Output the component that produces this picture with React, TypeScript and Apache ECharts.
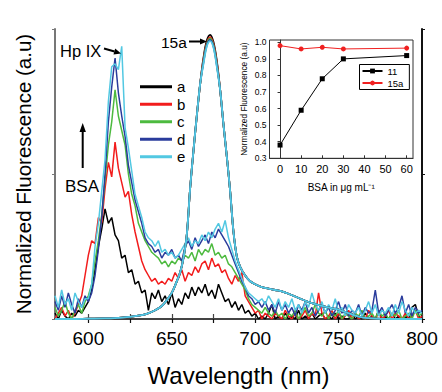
import React, { useEffect, useRef } from "react";
import * as echarts from "echarts";

const FONT = "Liberation Sans, Arial, Helvetica, sans-serif";

// wavelength grid of the noisy Hp IX traces (nm), 2 nm steps
const wavelengths = [
  580, 582, 584, 586, 588, 590, 592, 594, 596, 598,
  600, 602, 604, 606, 608, 610, 612, 614, 616, 618,
  620, 622, 624, 626, 628, 630, 632, 634, 636, 638,
  640, 642, 644, 646, 648, 650, 652, 654, 656, 658,
  660, 662, 664, 666, 668, 670, 672, 674, 676, 678,
  680, 682, 684, 686, 688, 690, 692, 694, 696, 698,
  700, 702, 704, 706, 708, 710, 712, 714, 716, 718,
  720, 722, 724, 726, 728, 730, 732, 734, 736, 738,
  740, 742, 744, 746, 748, 750, 752, 754, 756, 758,
  760, 762, 764, 766, 768, 770, 772, 774, 776, 778,
  780, 782, 784, 786, 788, 790, 792, 794, 796, 798,
  800,
];

const traceA = [
  0.02, 0.00, 0.03, 0.01, 0.00, 0.02, 0.01, 0.03, 0.02, 0.04,
  0.06, 0.10, 0.17, 0.25, 0.31, 0.38, 0.33, 0.35, 0.29, 0.27,
  0.21, 0.22, 0.16, 0.17, 0.12, 0.13, 0.09, 0.10, 0.03, 0.09,
  0.07, 0.10, 0.06, 0.08, 0.05, 0.09, 0.04, 0.07, 0.05, 0.09,
  0.07, 0.11, 0.08, 0.11, 0.09, 0.12, 0.08, 0.10, 0.07, 0.12,
  0.09, 0.06, 0.07, 0.04, 0.06, 0.03, 0.05, 0.02, 0.03, 0.01,
  0.02, 0.00, 0.01, 0.00, 0.02, 0.05, 0.00, 0.01, 0.00, 0.02,
  0.00, 0.01, 0.00, 0.03, 0.00, 0.01, 0.00, 0.02, 0.00, 0.01,
  0.02, 0.00, 0.01, 0.00, 0.02, 0.00, 0.01, 0.00, 0.00, 0.02,
  0.00, 0.01, 0.00, 0.02, 0.00, 0.01, 0.00, 0.03, 0.00, 0.01,
  0.00, 0.02, 0.00, 0.01, 0.00, 0.01, 0.00, 0.04, 0.05, 0.01,
  0.00,
];
const traceB = [
  0.00, 0.02, 0.04, 0.01, 0.03, 0.00, 0.02, 0.05, 0.08, 0.15,
  0.22, 0.27, 0.26, 0.35, 0.33, 0.45, 0.54, 0.49, 0.61, 0.52,
  0.47, 0.42, 0.44, 0.36, 0.30, 0.25, 0.20, 0.17, 0.15, 0.13,
  0.14, 0.12, 0.13, 0.12, 0.14, 0.13, 0.16, 0.14, 0.17, 0.13,
  0.16, 0.15, 0.18, 0.16, 0.19, 0.20, 0.17, 0.21, 0.18, 0.19,
  0.16, 0.17, 0.14, 0.12, 0.15, 0.13, 0.16, 0.08, 0.06, 0.04,
  0.02, 0.03, 0.00, 0.02, 0.01, 0.00, 0.02, 0.01, 0.00, 0.03,
  0.01, 0.00, 0.02, 0.00, 0.01, 0.03, 0.00, 0.02, 0.01, 0.09,
  0.02, 0.00, 0.01, 0.03, 0.00, 0.02, 0.00, 0.01, 0.03, 0.00,
  0.02, 0.00, 0.01, 0.00, 0.03, 0.01, 0.00, 0.02, 0.00, 0.01,
  0.03, 0.00, 0.02, 0.01, 0.00, 0.02, 0.00, 0.01, 0.03, 0.00,
  0.01,
];
const traceC = [
  0.04, 0.01, 0.03, 0.06, 0.02, 0.00, 0.03, 0.05, 0.02, 0.06,
  0.08, 0.12, 0.20, 0.27, 0.36, 0.48, 0.60, 0.68, 0.79, 0.70,
  0.65, 0.60, 0.50, 0.43, 0.39, 0.33, 0.30, 0.27, 0.25, 0.23,
  0.22, 0.21, 0.19, 0.20, 0.18, 0.20, 0.19, 0.21, 0.20, 0.22,
  0.21, 0.23, 0.20, 0.24, 0.22, 0.24, 0.23, 0.26, 0.22, 0.23,
  0.21, 0.22, 0.19, 0.18, 0.16, 0.14, 0.12, 0.10, 0.07, 0.05,
  0.04, 0.03, 0.02, 0.04, 0.02, 0.01, 0.03, 0.01, 0.02, 0.00,
  0.02, 0.01, 0.03, 0.00, 0.02, 0.04, 0.01, 0.02, 0.05, 0.02,
  0.01, 0.03, 0.00, 0.02, 0.01, 0.03, 0.00, 0.02, 0.01, 0.00,
  0.02, 0.01, 0.03, 0.00, 0.01, 0.02, 0.00, 0.03, 0.01, 0.02,
  0.00, 0.02, 0.01, 0.03, 0.00, 0.01, 0.02, 0.00, 0.03, 0.01,
  0.02,
];
const traceD = [
  0.06, 0.03, 0.08, 0.04, 0.09, 0.05, 0.02, 0.07, 0.04, 0.08,
  0.06, 0.09, 0.15, 0.24, 0.35, 0.50, 0.68, 0.80, 0.90, 0.78,
  0.70, 0.63, 0.53, 0.47, 0.41, 0.37, 0.33, 0.28, 0.26, 0.25,
  0.23, 0.24, 0.21, 0.23, 0.22, 0.24, 0.21, 0.22, 0.20, 0.25,
  0.27, 0.24, 0.28, 0.25, 0.27, 0.29, 0.26, 0.30, 0.28, 0.31,
  0.29, 0.27, 0.25, 0.22, 0.19, 0.16, 0.13, 0.11, 0.08, 0.07,
  0.05, 0.06, 0.04, 0.06, 0.03, 0.05, 0.02, 0.06, 0.03, 0.05,
  0.02, 0.04, 0.01, 0.05, 0.03, 0.06, 0.02, 0.04, 0.01, 0.03,
  0.05, 0.02, 0.04, 0.01, 0.03, 0.06, 0.02, 0.05, 0.01, 0.03,
  0.02, 0.05, 0.01, 0.04, 0.02, 0.03, 0.10, 0.02, 0.04, 0.01,
  0.03, 0.05, 0.02, 0.04, 0.08, 0.02, 0.05, 0.01, 0.04, 0.02,
  0.03,
];
const traceE = [
  0.08, 0.04, 0.10, 0.05, 0.07, 0.03, 0.09, 0.06, 0.04, 0.07,
  0.07, 0.12, 0.25, 0.33, 0.44, 0.55, 0.75, 0.87, 0.88, 0.86,
  0.94, 0.66, 0.59, 0.51, 0.43, 0.39, 0.35, 0.30, 0.28, 0.27,
  0.25, 0.27, 0.23, 0.24, 0.22, 0.23, 0.21, 0.22, 0.24, 0.26,
  0.28, 0.25, 0.27, 0.26, 0.29, 0.27, 0.30, 0.28, 0.31, 0.33,
  0.30, 0.34, 0.28, 0.24, 0.20, 0.17, 0.14, 0.11, 0.09, 0.08,
  0.07, 0.06, 0.07, 0.05, 0.08, 0.06, 0.04, 0.07, 0.03, 0.06,
  0.04, 0.07, 0.03, 0.05, 0.02, 0.06, 0.04, 0.09, 0.05, 0.03,
  0.06, 0.02, 0.05, 0.03, 0.07, 0.02, 0.04, 0.01, 0.05, 0.03,
  0.02, 0.04, 0.01, 0.03, 0.06, 0.02, 0.05, 0.01, 0.03, 0.02,
  0.04, 0.01, 0.05, 0.02, 0.06, 0.03, 0.01, 0.04, 0.02, 0.03,
  0.02,
];

// smooth 15a emission band: shared wings + per-trace peak tops
const bandLeftWl = [580, 590, 600, 610, 620, 630, 635, 640, 644, 647, 650, 653, 655, 657, 659, 661, 663, 665, 667];
const bandLeft = [0, 0, 0.001, 0.002, 0.005, 0.012, 0.018, 0.03, 0.045, 0.065, 0.09, 0.13, 0.16, 0.21, 0.29, 0.45, 0.58, 0.7, 0.81];
const bandTopWl = [669, 671, 673, 675, 677];
const bandTopA = [0.9, 0.96, 0.98, 0.955, 0.89];
const bandTopB = [0.895, 0.952, 0.972, 0.948, 0.885];
const bandTopC = [0.89, 0.948, 0.968, 0.944, 0.88];
const bandTopD = [0.885, 0.944, 0.962, 0.94, 0.875];
const bandTopE = [0.88, 0.94, 0.958, 0.936, 0.87];
const bandRightWl = [679, 681, 683, 685, 687, 689, 691, 694, 697, 700, 704, 708, 712, 716, 720, 725, 730, 735, 740, 745, 750, 755, 760, 765, 770, 780, 800];
const bandRight = [0.79, 0.67, 0.56, 0.44, 0.3, 0.215, 0.18, 0.15, 0.13, 0.12, 0.11, 0.105, 0.1, 0.095, 0.087, 0.075, 0.063, 0.053, 0.045, 0.038, 0.032, 0.022, 0.012, 0.005, 0.002, 0, 0];

// inset
const bsaDose = [0, 10, 20, 30, 60];
const inset11 = [0.38, 0.59, 0.78, 0.9, 0.92];
const inset15a = [0.98, 0.96, 0.97, 0.96, 0.965];

const traceNames = ["a", "b", "c", "d", "e"];
const traceColors = ["#000000", "#f21c1c", "#4dba3f", "#2a3c9c", "#52c8e2"];
const traces = [traceA, traceB, traceC, traceD, traceE];
const bandTops = [bandTopA, bandTopB, bandTopC, bandTopD, bandTopE];

const xTicksMajor = [600, 650, 700, 750, 800];
const xTicksMinor = [600, 625, 650, 675, 700, 725, 750, 775, 800];
const insetXTicks = [0, 10, 20, 30, 40, 50, 60];
const insetYTicks = [0.3, 0.4, 0.5, 0.6, 0.7, 0.8, 0.9, 1.0];

export default function App() {
  const ref = useRef<HTMLDivElement>(null);
  useEffect(() => {
    if (!ref.current) return;
    const chart = echarts.init(ref.current, undefined, { renderer: "svg" });

    const noisySeries = traces.map((t, i) => ({
      type: "line",
      name: traceNames[i],
      xAxisIndex: 0,
      yAxisIndex: 0,
      data: wavelengths.map((w, k) => [w, t[k]]),
      symbol: "none",
      lineStyle: { color: traceColors[i], width: 1.5 },
      itemStyle: { color: traceColors[i] },
      z: 2 + i,
    }));
    const bandSeries = bandTops.map((top, i) => ({
      type: "line",
      name: "15a-" + traceNames[i],
      xAxisIndex: 0,
      yAxisIndex: 0,
      data: [
        ...bandLeftWl.map((w, k) => [w, bandLeft[k]]),
        ...bandTopWl.map((w, k) => [w, top[k]]),
        ...bandRightWl.map((w, k) => [w, bandRight[k]]),
      ],
      symbol: "none",
      smooth: 0.35,
      lineStyle: { color: traceColors[i], width: 1.8 },
      itemStyle: { color: traceColors[i] },
      z: 8 + i,
    }));

    const arrowColor = "#000";
    chart.setOption({
      animation: false,
      textStyle: { fontFamily: FONT },
      grid: [
        { left: 55, right: 20, top: 29, bottom: 65.3, show: false },
        {
          left: 269.5, right: 29, top: 40, bottom: 233.7, show: true,
          backgroundColor: "#ffffff", borderColor: "#333", borderWidth: 1, z: 20,
        },
      ],
      legend: [
        {
          data: traceNames,
          orient: "vertical",
          left: 140,
          top: 78,
          itemWidth: 32,
          itemHeight: 3,
          itemGap: 0,
          icon: "rect",
          padding: 0,
          textStyle: { fontSize: 15, color: "#000", lineHeight: 17.5, fontFamily: FONT },
        },
        {
          data: ["11", "15a"],
          orient: "vertical",
          left: 359.5,
          top: 64.5,
          itemWidth: 20,
          itemHeight: 6,
          itemGap: 1,
          padding: [1, 6, 1, 2],
          borderColor: "#000",
          borderWidth: 1,
          backgroundColor: "#fff",
          z: 30,
          textStyle: { fontSize: 9.5, color: "#000", lineHeight: 11, fontFamily: FONT },
        },
      ],
      xAxis: [
        {
          type: "value", gridIndex: 0, position: "bottom", min: 580, max: 800,
          axisLine: { show: true, lineStyle: { color: "#111", width: 2 } },
          axisTick: { show: true, customValues: xTicksMinor, length: 4, lineStyle: { color: "#111", width: 1.2 } },
          axisLabel: { show: true, customValues: xTicksMajor, fontSize: 19, color: "#000", margin: 10, fontFamily: FONT },
          splitLine: { show: false },
          name: "Wavelength (nm)", nameLocation: "middle", nameGap: 44,
          nameTextStyle: { fontSize: 24, color: "#000", fontFamily: FONT },
        },
        {
          type: "value", gridIndex: 0, position: "top", min: 580, max: 800,
          axisLine: { show: true, lineStyle: { color: "#444", width: 2 } },
          axisTick: { show: true, customValues: xTicksMinor, length: 5, lineStyle: { color: "#444", width: 1.2 } },
          axisLabel: { show: false },
          splitLine: { show: false },
        },
        {
          type: "value", gridIndex: 1, min: -5, max: 63,
          axisLine: { show: true, onZero: false, lineStyle: { color: "#333", width: 1 } },
          axisTick: { show: true, customValues: insetXTicks, inside: true, length: 3, lineStyle: { color: "#333" } },
          axisLabel: { show: true, customValues: insetXTicks, fontSize: 11, color: "#000", margin: 5, fontFamily: FONT },
          splitLine: { show: false },
          name: "BSA in μg mL⁻¹", nameLocation: "middle", nameGap: 24,
          nameTextStyle: { fontSize: 10, color: "#000", fontFamily: FONT },
          z: 21,
        },
      ],
      yAxis: [
        {
          type: "value", gridIndex: 0, position: "left", min: 0, max: 1, interval: 0.5,
          axisLine: { show: true, lineStyle: { color: "#777", width: 2 } },
          axisTick: { show: true, length: 3, lineStyle: { color: "#777" } },
          axisLabel: { show: false },
          splitLine: { show: false },
          name: "Normalized Fluorescence (a.u)", nameLocation: "middle", nameRotate: 90, nameGap: 21,
          nameTextStyle: { fontSize: 20.5, color: "#000", fontFamily: FONT },
        },
        {
          type: "value", gridIndex: 0, position: "right", min: 0, max: 1, interval: 0.5,
          axisLine: { show: true, lineStyle: { color: "#111", width: 2 } },
          axisTick: { show: true, length: 3, lineStyle: { color: "#111" } },
          axisLabel: { show: false },
          splitLine: { show: false },
        },
        {
          type: "value", gridIndex: 1, min: 0.3, max: 1.014,
          axisLine: { show: true, lineStyle: { color: "#333", width: 1 } },
          axisTick: { show: true, customValues: insetYTicks, length: 2.5, lineStyle: { color: "#333" } },
          axisLabel: {
            show: true, customValues: insetYTicks, fontSize: 8.5, color: "#000", margin: 3, fontFamily: FONT,
            formatter: (v: number) => v.toFixed(1),
          },
          splitLine: { show: false },
          name: "Normalized Fluorescence (a.u)", nameLocation: "middle", nameRotate: 90, nameGap: 22,
          nameTextStyle: { fontSize: 8.3, color: "#000", fontFamily: FONT },
          z: 21,
        },
      ],
      series: [
        ...noisySeries,
        ...bandSeries,
        {
          type: "line", name: "11", xAxisIndex: 2, yAxisIndex: 2,
          data: bsaDose.map((d, k) => [d, inset11[k]]),
          symbol: "rect", symbolSize: 5,
          lineStyle: { color: "#000", width: 1 }, itemStyle: { color: "#000" }, z: 25,
        },
        {
          type: "line", name: "15a", xAxisIndex: 2, yAxisIndex: 2,
          data: bsaDose.map((d, k) => [d, inset15a[k]]),
          symbol: "circle", symbolSize: 5,
          lineStyle: { color: "#f02020", width: 1 }, itemStyle: { color: "#f02020" }, z: 25,
        },
      ],
      graphic: [
        { type: "text", left: 60, top: 42, z: 40, style: { text: "Hp IX", fontSize: 16.5, fill: "#000", fontFamily: FONT } },
        { type: "line", z: 40, shape: { x1: 104, y1: 48.5, x2: 114.5, y2: 51.5 }, style: { stroke: arrowColor, lineWidth: 2 } },
        { type: "polygon", z: 40, shape: { points: [[121, 53.5], [113.5, 54.6], [115.2, 48.6]] }, style: { fill: arrowColor } },
        { type: "text", left: 161, top: 34, z: 40, style: { text: "15a", fontSize: 15.5, fill: "#000", fontFamily: FONT } },
        { type: "line", z: 40, shape: { x1: 189, y1: 41.5, x2: 201, y2: 41.5 }, style: { stroke: arrowColor, lineWidth: 2 } },
        { type: "polygon", z: 40, shape: { points: [[207, 41.5], [200, 38.5], [200, 44.5]] }, style: { fill: arrowColor } },
        { type: "text", left: 65, top: 178, z: 40, style: { text: "BSA", fontSize: 17, fill: "#000", fontFamily: FONT } },
        { type: "line", z: 40, shape: { x1: 82.7, y1: 168, x2: 82.7, y2: 131 }, style: { stroke: arrowColor, lineWidth: 2 } },
        { type: "polygon", z: 40, shape: { points: [[82.7, 123], [79.5, 132], [85.9, 132]] }, style: { fill: arrowColor } },
      ],
    });
    return () => chart.dispose();
  }, []);
  return (
    <div
      ref={ref}
      style={{ position: "fixed", left: 0, top: 0, width: 442, height: 392, background: "#fff" }}
    />
  );
}
